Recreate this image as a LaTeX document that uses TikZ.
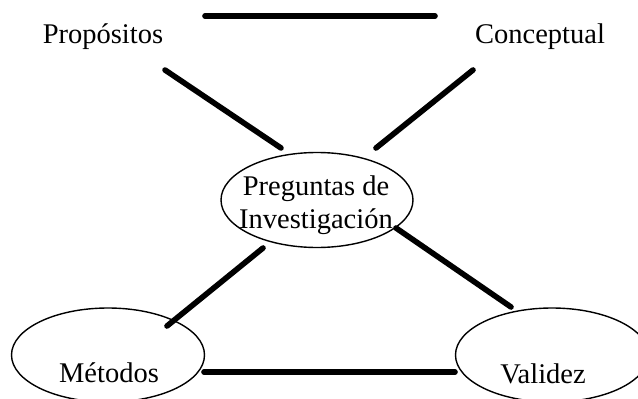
\documentclass[tikz,border=0pt]{standalone}
\usepackage{fontspec}
\setmainfont{Liberation Serif}
\usetikzlibrary{shapes.geometric}
\begin{document}
\begin{tikzpicture}[x=1pt,y=-1pt,
  conn/.style={line width=5.6pt,line cap=round},
  oval/.style={ellipse,draw,line width=1.4pt,inner sep=0pt},
  lbl/.style={font=\fontsize{28.5}{32.5}\selectfont,inner sep=0pt}]
\useasboundingbox (0,0) rectangle (638,399);
\clip (0,0) rectangle (638,399);
% text nodes
\node[lbl,anchor=base] (prop) at (103,43) {Propósitos};
\node[lbl,anchor=base] (conc) at (540,43) {Conceptual};
% ellipses
\node[oval,minimum width=192pt,minimum height=95pt] (preg) at (317,200) {};
\node[lbl,align=center,anchor=base] (pregT) at (316,228) {Preguntas de\\Investigación};
\node[oval,minimum width=193pt,minimum height=94pt] (met) at (108,355) {};
\node[lbl,anchor=base] (metT) at (109,382) {Métodos};
\node[oval,minimum width=193pt,minimum height=94pt] (val) at (552,355) {};
\node[lbl,anchor=base] (valT) at (543,383) {Validez};
% connector end points
\coordinate (t1) at (205,16);
\coordinate (t2) at (435,16);
\coordinate (pa) at (165,70);
\coordinate (pb) at (281,148);
\coordinate (ca) at (473,70);
\coordinate (cb) at (376,148);
\coordinate (ma) at (263,248);
\coordinate (mb) at (167,326);
\coordinate (va) at (396,228);
\coordinate (vb) at (511,307);
\coordinate (ha) at (204,372);
\coordinate (hb) at (455,372);
\draw[conn] (t1) -- (t2);
\draw[conn] (pa) -- (pb);
\draw[conn] (ca) -- (cb);
\draw[conn] (ma) -- (mb);
\draw[conn] (va) -- (vb);
\draw[conn] (ha) -- (hb);
\end{tikzpicture}
\end{document}
